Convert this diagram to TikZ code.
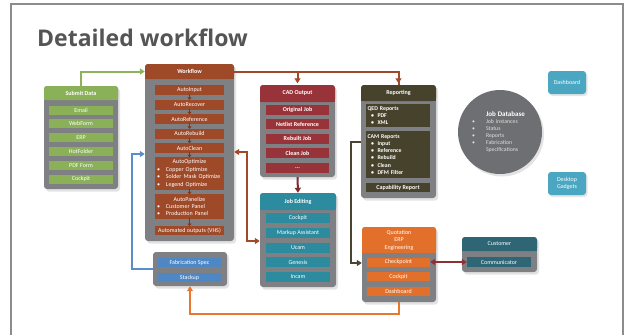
\documentclass[tikz,border=0pt]{standalone}
\usepackage{fontspec}
\setmainfont{Carlito}
\newfontfamily\titlefont{Open Sans}
\usetikzlibrary{shadows,arrows.meta,calc}
\definecolor{bodygray}{HTML}{7E8084}
\definecolor{sdgreen}{HTML}{8BB158}
\definecolor{wfbrown}{HTML}{9E4A28}
\definecolor{wfdark}{HTML}{7E3516}
\definecolor{cadred}{HTML}{983439}
\definecolor{jeteal}{HTML}{2C8B9E}
\definecolor{repolive}{HTML}{46422C}
\definecolor{quorange}{HTML}{E2702A}
\definecolor{custteal}{HTML}{2E6675}
\definecolor{fabblue}{HTML}{4F87C5}
\definecolor{dashblue}{HTML}{4BA7C1}
\definecolor{dbgray}{HTML}{6E6F72}
\definecolor{framegray}{HTML}{8C8C8C}
\definecolor{titlegray}{HTML}{555555}
\definecolor{linkgreen}{HTML}{8DB35A}
\definecolor{linkbrown}{HTML}{A04A2A}
\definecolor{linkblue}{HTML}{5B8DC9}
\definecolor{linkorange}{HTML}{E8782F}
\definecolor{linkolive}{HTML}{4A4530}
\definecolor{linkred}{HTML}{8E2E35}
\newcommand{\wb}{\makebox[9pt][l]{\textbullet}}
\newcommand{\rb}{\hspace*{3.5pt}\makebox[6.5pt][l]{\textbullet}}
\newcommand{\jb}{\makebox[14pt][l]{\textbullet}}
\tikzset{
  body/.style={rounded corners=3pt, fill=bodygray, inner sep=0pt,
    drop shadow={shadow xshift=2pt,shadow yshift=-2.5pt,opacity=0.22}},
  head/.style={rounded corners=3pt, inner sep=0pt, text=white,
    font=\fontsize{6}{7.5}\selectfont\bfseries, align=center},
  item/.style={inner sep=0pt, text=white, font=\fontsize{6}{7}\selectfont},
  bitem/.style={item, font=\fontsize{6}{7}\selectfont\bfseries},
  link/.style={line width=2pt, -{Triangle[length=5pt,width=6pt]}},
  linkboth/.style={line width=2pt, {Triangle[length=5pt,width=6pt]}-{Triangle[length=5pt,width=6pt]}},
  small/.style={line width=1pt, wfdark, -{Triangle[length=2.5pt,width=4pt]}},
}
\begin{document}
\begin{tikzpicture}[x=1pt,y=-1pt]
\useasboundingbox (0,0) rectangle (626,335);
\fill[white] (0,0) rectangle (626,335);
\draw[framegray, line width=1.3pt] (11,335) -- (11,4) -- (623,4) -- (623,335);
\node[anchor=base west, inner sep=0pt, text=titlegray, font=\titlefont\bfseries\fontsize{23}{27}\selectfont] (title) at (37,46) {Detailed workflow};

% ---------- Submit Data
\node[body, minimum width=74, minimum height=103] (sdBody) at (81,137.5) {};
\node[head, fill=sdgreen, minimum width=74, minimum height=14] (sdHead) at (81,93) {};
\fill[sdgreen] (sdHead.west) rectangle (sdHead.south east);
\node[head] at (sdHead) {Submit Data};
\foreach \n/\t/\y in {sd1/Email/110, sd2/WebForm/123.8, sd3/ERP/137.6, sd4/HotFolder/151.4, sd5/PDF Form/165.2, sd6/Cockpit/179}
  \node[item, fill=sdgreen, minimum width=64, minimum height=9] (\n) at (81,\y) {\t};

% ---------- Workflow
\node[body, minimum width=89, minimum height=177] (wfBody) at (189.5,152.5) {};
\node[head, fill=wfbrown, minimum width=89, minimum height=15] (wfHead) at (189.5,71.5) {};
\fill[wfbrown] (wfHead.west) rectangle (wfHead.south east);
\node[head] at (wfHead) {Workflow};
\foreach \n/\t/\y in {wf1/AutoInput/90, wf2/AutoRecover/104.5, wf3/AutoReference/119, wf4/AutoRebuild/133.5, wf5/AutoClean/148}
  \node[item, fill=wfbrown, minimum width=69, minimum height=10] (\n) at (189.5,\y) {\t};
\node[item, fill=wfbrown, minimum width=69, minimum height=33, text width=65pt, inner xsep=2pt, align=left, font=\fontsize{6}{7.4}\selectfont] (wf6) at (189.5,173.5)
  {\makebox[65pt]{AutoOptimize}\\ \wb Copper Optimize\\ \wb Solder Mask Optimize\\ \wb Legend Optimize};
\node[item, fill=wfbrown, minimum width=69, minimum height=25, text width=65pt, inner xsep=2pt, align=left, font=\fontsize{6}{7.4}\selectfont] (wf7) at (189.5,206.5)
  {\makebox[65pt]{AutoPanelize}\\ \wb Customer Panel\\ \wb Production Panel};
\node[item, fill=wfbrown, minimum width=69, minimum height=9.5] (wf8) at (189.5,230.5) {Automated outputs (VHS)};
\foreach \a/\b in {wf1/wf2, wf2/wf3, wf3/wf4, wf4/wf5, wf5/wf6, wf6/wf7, wf7/wf8}
  \draw[small] ([yshift=1pt]\a.south) -- ([yshift=-0.5pt]\b.north);

% ---------- Fabrication spec
\node[body, minimum width=74, minimum height=34] (fabBody) at (190,269) {};
\node[item, fill=fabblue, minimum width=63, minimum height=9] (fab1) at (189.5,262.5) {Fabrication Spec};
\node[item, fill=fabblue, minimum width=63, minimum height=9] (fab2) at (189.5,277.5) {Stackup};

% ---------- CAD Output
\node[body, minimum width=75, minimum height=92] (cadBody) at (297.5,131) {};
\node[head, fill=cadred, minimum width=75, minimum height=17] (cadHead) at (297.5,93.5) {};
\fill[cadred] (cadHead.west) rectangle (cadHead.south east);
\node[head] at (cadHead) {CAD Output};
\foreach \n/\t/\y in {cad1/Original Job/110, cad2/Netlist Reference/124.4, cad3/Rebuilt Job/138.8, cad4/Clean Job/153.2}
  \node[bitem, fill=cadred, minimum width=63, minimum height=10] (\n) at (297.5,\y) {\t};
\node[bitem, fill=cadred, minimum width=63, minimum height=10] (cad5) at (297.5,167.6) {...};

% ---------- Job Editing
\node[body, minimum width=76, minimum height=94] (jeBody) at (298,240) {};
\node[head, fill=jeteal, minimum width=76, minimum height=17] (jeHead) at (298,201.5) {};
\fill[jeteal] (jeHead.west) rectangle (jeHead.south east);
\node[head] at (jeHead) {Job Editing};
\foreach \n/\t/\y in {je1/Cockpit/218, je2/Markup Assistant/232.8, je3/Ucam/247.5, je4/Genesis/262.2, je5/Incam/277}
  \node[item, fill=jeteal, minimum width=64, minimum height=10] (\n) at (298,\y) {\t};

% ---------- Reporting
\node[body, minimum width=75, minimum height=113] (repBody) at (398.5,141.5) {};
\node[head, fill=repolive, minimum width=75, minimum height=16] (repHead) at (398.5,93) {};
\fill[repolive] (repHead.west) rectangle (repHead.south east);
\node[head] at (repHead) {Reporting};
\node[bitem, fill=repolive, minimum width=64, minimum height=23, text width=61pt, inner xsep=1.5pt, align=left, font=\fontsize{5.8}{7.1}\selectfont\bfseries] (rep1) at (398,115.5)
  {QED Reports\\ \rb PDF\\ \rb XML};
\node[bitem, fill=repolive, minimum width=64, minimum height=47, text width=61pt, inner xsep=1.5pt, align=left, font=\fontsize{5.8}{7.2}\selectfont\bfseries] (rep2) at (398,154.5)
  {CAM Reports\\ \rb Input\\ \rb Reference\\ \rb Rebuild\\ \rb Clean\\ \rb DFM Filter};
\node[bitem, fill=repolive, minimum width=64, minimum height=9] (rep3) at (398,187.5) {Capability Report};

% ---------- Quotation
\node[body, minimum width=74, minimum height=75] (quBody) at (399,264.5) {};
\node[head, fill=quorange, minimum width=74, minimum height=26] (quHead) at (399,240) {};
\fill[quorange] (quHead.west) rectangle (quHead.south east);
\node[head, font=\fontsize{6}{7.5}\selectfont] at (quHead) {Quotation\\ERP\\Engineering};
\foreach \n/\t/\y in {qu1/Checkpoint/262, qu2/Cockpit/276.5, qu3/Dashboard/291}
  \node[item, fill=quorange, minimum width=63, minimum height=9] (\n) at (398.5,\y) {\t};

% ---------- Customer
\node[body, minimum width=75, minimum height=35] (cuBody) at (499.5,254.5) {};
\node[head, fill=custteal, minimum width=75, minimum height=14] (cuHead) at (499.5,244) {};
\fill[custteal] (cuHead.west) rectangle (cuHead.south east);
\node[head, font=\fontsize{6}{7.5}\selectfont] at (cuHead) {Customer};
\node[item, fill=custteal, minimum width=64, minimum height=10] (cu1) at (499,262) {Communicator};

% ---------- Job Database
\node[circle, fill=dbgray, minimum size=84, inner sep=0pt, text=white!88!black, text width=56pt, align=left,
  font=\fontsize{5.8}{7}\selectfont, drop shadow={shadow xshift=2pt,shadow yshift=-2.5pt,opacity=0.22}] (db) at (500,132)
  {\hspace*{14pt}{\color{white}\bfseries\fontsize{7}{8}\selectfont Job Database}\\[0.6pt]
   \jb Job instances\\ \jb Status\\ \jb Reports\\ \jb Fabrication\\ \hspace*{14pt}Specifications};

% ---------- Dashboard / Desktop gadgets
\node[rounded corners=3pt, fill=dashblue, minimum width=38, minimum height=23, inner sep=0pt, text=white,
  font=\fontsize{6}{7}\selectfont, drop shadow={shadow xshift=1.5pt,shadow yshift=-2pt,opacity=0.2}] (dash) at (567,82.5) {Dashboard};
\node[rounded corners=3pt, fill=dashblue, minimum width=38, minimum height=23, inner sep=0pt, text=white, align=center,
  font=\fontsize{6}{7.5}\selectfont, drop shadow={shadow xshift=1.5pt,shadow yshift=-2pt,opacity=0.2}] (gadg) at (567,183.5) {Desktop\\Gadgets};

% ---------- Connectors
\draw[link, linkgreen] (sdHead.north) |- (wfHead.west);
\draw[line width=2pt, linkbrown] (wfHead.east) -| (repHead.north);
\draw[link, linkbrown, shorten >=1.5pt] (cadHead.north |- wfHead.east) -- (cadHead.north);
\draw[link, linkbrown, shorten >=1.5pt] (repHead.north |- wfHead.east) -- (repHead.north);
\draw[link, linkred!90!black] (cadBody.south) -- (jeHead.north);
\draw[linkboth, linkbrown] (wfBody.east |- 0,152) -| (247,241) -- (jeBody.west |- 0,241);
\draw[link, linkblue] (fabBody.west) -| (132,154) -- (wfBody.west |- 0,154);
\draw[link, linkorange] (quBody.south) -- ++(0,12) -| (fabBody.south);
\draw[link, linkolive] (repBody.west |- 0,142) -| (351,263) -- (quBody.west |- 0,263);
\draw[linkboth, linkred] (qu1.east) -- (cu1.west);
\end{tikzpicture}
\end{document}
